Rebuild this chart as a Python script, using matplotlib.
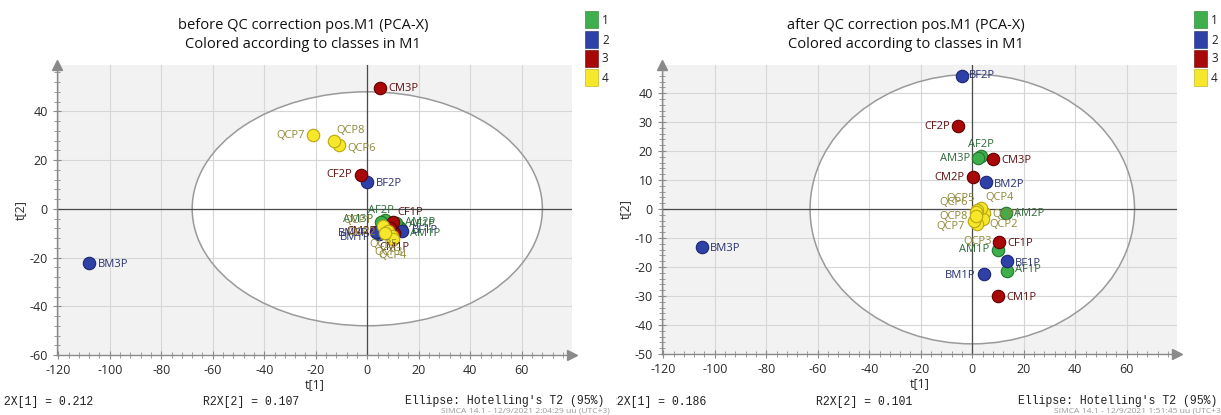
import matplotlib.pyplot as plt
from matplotlib.patches import Ellipse, Rectangle
from matplotlib.ticker import MultipleLocator
from matplotlib.transforms import Bbox, TransformedBbox

plt.rcParams['font.family'] = ['Open Sans', 'DejaVu Sans']
plt.rcParams['axes.unicode_minus'] = False

W, H = 1221, 415

names = ['AF1P', 'AF2P', 'AM1P', 'AM2P', 'AM3P',
         'BF1P', 'BF2P', 'BM1P', 'BM2P', 'BM3P',
         'CF1P', 'CF2P', 'CM1P', 'CM2P', 'CM3P',
         'QCP1', 'QCP2', 'QCP3', 'QCP4', 'QCP5', 'QCP6', 'QCP7', 'QCP8']
classes = [1, 1, 1, 1, 1,
           2, 2, 2, 2, 2,
           3, 3, 3, 3, 3,
           4, 4, 4, 4, 4, 4, 4, 4]

# scores before QC correction
before_t1 = [12.5, 7.0, 13.0, 11.0, 5.5,
             13.5, 0.0, 4.5, 3.5, -108.0,
             10.0, -2.6, 10.5, 9.0, 5.0,
             6.0, 8.0, 9.5, 10.0, 7.0, -11.0, -21.0, -13.0]
before_t2 = [-7.5, -4.5, -8.5, -6.0, -5.5,
             -9.0, 11.0, -10.5, -9.5, -22.4,
             -5.5, 13.9, -10.0, -8.0, 49.4,
             -7.0, -9.0, -11.0, -12.5, -10.0, 26.0, 30.2, 28.0]

# scores after QC correction
after_t1 = [13.5, 3.2, 10.0, 13.0, 2.3,
            13.4, -4.0, 4.6, 5.3, -105.0,
            10.3, -5.5, 10.0, 0.3, 8.0,
            4.5, 4.0, 2.0, 3.5, 2.0, 1.5, 0.5, 1.5]
after_t2 = [-21.2, 18.3, -14.0, -1.2, 17.5,
            -17.8, 46.0, -22.3, 9.3, -13.0,
            -11.5, 28.5, -30.0, 11.0, 17.2,
            -1.5, -3.5, -5.0, 0.3, -0.2, -1.0, -4.0, -2.5]

before_title = 'before QC correction pos.M1 (PCA-X)\nColored according to classes in M1'
after_title = 'after QC correction pos.M1 (PCA-X)\nColored according to classes in M1'
before_r2x = ['R2X[1] = 0.212', 'R2X[2] = 0.107']
after_r2x = ['R2X[1] = 0.186', 'R2X[2] = 0.101']
before_stamp = 'SIMCA 14.1 - 12/9/2021 2:04:29 uu (UTC+3)'
after_stamp = 'SIMCA 14.1 - 12/9/2021 1:51:45 uu (UTC+3)'

face = {1: '#3fae4c', 2: '#2f40a8', 3: '#a80808', 4: '#f7e72a'}
edge = {1: '#22752c', 2: '#1c2770', 3: '#600000', 4: '#b8a810'}
text_col = {1: '#2f6a3a', 2: '#27306e', 3: '#5c1010', 4: '#8e8838'}

# label placement: (dx, dy) in points, horizontal alignment
before_lab = {
    'AF1P': (7, 2, 'left'), 'AF2P': (-3, 7, 'center'), 'AM1P': (7, -3, 'left'),
    'AM2P': (7, 1, 'left'), 'AM3P': (-6, 2, 'right'), 'BF1P': (7, 0, 'left'),
    'BF2P': (6, -1, 'left'), 'BM1P': (-6, -2, 'right'), 'BM2P': (-6, -1, 'right'),
    'BM3P': (6, -1, 'left'), 'CF1P': (3, 7, 'left'), 'CF2P': (-6, 0, 'right'),
    'CM1P': (0, -10, 'center'), 'CM2P': (-10, -2, 'right'), 'CM3P': (6, 0, 'left'),
    'QCP1': (-8, 4, 'right'), 'QCP2': (-9, -1, 'right'), 'QCP3': (-2, -12, 'center'),
    'QCP4': (0, -12, 'center'), 'QCP5': (-1, -8, 'center'), 'QCP6': (6, -2, 'left'),
    'QCP7': (-6, 0, 'right'), 'QCP8': (2, 7, 'left'),
}
after_lab = {
    'AF1P': (6, 1, 'left'), 'AF2P': (0, 8, 'center'), 'AM1P': (-6, 0, 'right'),
    'AM2P': (6, -1, 'left'), 'AM3P': (-6, 0, 'right'), 'BF1P': (6, -2, 'left'),
    'BF2P': (5, 0, 'left'), 'BM1P': (-6, -1, 'right'), 'BM2P': (6, -2, 'left'),
    'BM3P': (6, -1, 'left'), 'CF1P': (6, -1, 'left'), 'CF2P': (-6, 0, 'right'),
    'CM1P': (6, -1, 'left'), 'CM2P': (-6, 0, 'right'), 'CM3P': (6, -1, 'left'),
    'QCP1': (6, -1, 'left'), 'QCP2': (5, -4, 'left'), 'QCP3': (0, -13, 'center'),
    'QCP4': (3, 8, 'left'), 'QCP5': (-2, 8, 'right'), 'QCP6': (-6, 7, 'right'),
    'QCP7': (-6, -4, 'right'), 'QCP8': (-6, 0, 'right'),
}


def px(x, y):
    # figure pixel (from top-left) -> figure fraction
    return x / W, 1 - y / H


def draw_panel(ax, t1, t2, labels, ell_w, ell_h, ylim, ystep):
    ax.set_facecolor('#f2f2f2')
    ax.set_xlim(-120.5, 79.5)
    ax.set_ylim(*ylim)
    ax.xaxis.set_major_locator(MultipleLocator(20))
    ax.xaxis.set_minor_locator(MultipleLocator(4))
    ax.yaxis.set_major_locator(MultipleLocator(ystep))
    ax.yaxis.set_minor_locator(MultipleLocator(ystep / 5))
    ax.set_axisbelow(True)
    ax.grid(True, which='major', color='#d6d6d6', lw=0.8)

    ax.add_patch(Ellipse((0, 0), 2 * ell_w, 2 * ell_h, facecolor='white',
                         edgecolor='none', zorder=0.2))
    ax.add_patch(Ellipse((0, 0), 2 * ell_w, 2 * ell_h, facecolor='none',
                         edgecolor='#9a9a9a', lw=1.1, zorder=1.5))
    ax.axhline(0, color='#4a4a4a', lw=0.9, zorder=1.6)
    ax.axvline(0, color='#4a4a4a', lw=0.9, zorder=1.6)

    for sp in ['top', 'right']:
        ax.spines[sp].set_visible(False)
    for sp in ['left', 'bottom']:
        ax.spines[sp].set_color('#8a8a8a')
        ax.spines[sp].set_linewidth(1.0)
    ax.plot(1, 0, '>', color='#8a8a8a', ms=7, transform=ax.transAxes, clip_on=False)
    ax.plot(0, 1, '^', color='#8a8a8a', ms=7, transform=ax.transAxes, clip_on=False)

    ax.tick_params(which='major', direction='inout', length=6, color='#8a8a8a',
                   labelsize=9, labelcolor='#2a2a2a')
    ax.tick_params(which='minor', direction='inout', length=4, color='#8a8a8a')
    ax.set_xlabel('t[1]', fontsize=9, color='#2a2a2a', labelpad=1)
    ax.set_ylabel('t[2]', fontsize=9, color='#2a2a2a', labelpad=2)

    for i, name in enumerate(names):
        c = classes[i]
        ax.scatter(t1[i], t2[i], s=80, color=face[c], edgecolors=edge[c],
                   linewidths=0.8, zorder=3)
        dx, dy, ha = labels[name]
        ax.annotate(name, (t1[i], t2[i]), xytext=(dx, dy), textcoords='offset points',
                    ha=ha, va='center', fontsize=8, color=text_col[c], zorder=4)


def draw_legend(fig, x0):
    ys = [20, 40, 59, 78]
    for i, c in enumerate([1, 2, 3, 4]):
        fx, fy = px(x0, ys[i] + 8.5)
        fig.add_artist(Rectangle((fx, fy), 13 / W, 17 / H, transform=fig.transFigure,
                                 facecolor=face[c], edgecolor=edge[c], lw=0.4))
        tx, ty = px(x0 + 17, ys[i])
        fig.text(tx, ty, str(c), fontsize=8.5, va='center', color='#222222')


def draw_footer(fig, x0, r2x, stamp, clip_x):
    mono = dict(family='Liberation Mono', fontsize=8.3, color='#222222', va='center')
    t = fig.text(*px(x0, 402), r2x[0], **mono)
    t.set_clip_box(TransformedBbox(Bbox.from_extents(clip_x / W, 0, 1, 1), fig.transFigure))
    t.set_clip_on(True)
    fig.text(*px(x0 + 206, 402), r2x[1], **mono)
    fig.text(*px(x0 + 408, 401), "Ellipse: Hotelling's T2 (95%)", **mono)
    fig.text(*px(x0 + 444, 411), stamp, fontsize=6.1, color='#9a9a9a', va='center')


def main():
    fig = plt.figure(figsize=(W / 100, H / 100), dpi=100)

    ax1 = fig.add_axes([57 / W, 60 / H, 515 / W, 290 / H])
    draw_panel(ax1, before_t1, before_t2, before_lab, 68, 48, (-60, 59), 20)
    ax2 = fig.add_axes([662 / W, 61 / H, 515 / W, 289 / H])
    draw_panel(ax2, after_t1, after_t2, after_lab, 63, 46.5, (-50, 49.7), 10)

    fig.text(*px(303, 35), before_title, ha='center', va='center', fontsize=10.5,
             color='#111111', linespacing=1.45)
    fig.text(*px(906, 35), after_title, ha='center', va='center', fontsize=10.5,
             color='#111111', linespacing=1.45)

    draw_legend(fig, 585)
    draw_legend(fig, 1194)

    draw_footer(fig, -3, before_r2x, before_stamp, 3.5)
    draw_footer(fig, 609.5, after_r2x, after_stamp, 615.5)

    fig.savefig('out.png', dpi=100)


if __name__ == "__main__":
    main()
